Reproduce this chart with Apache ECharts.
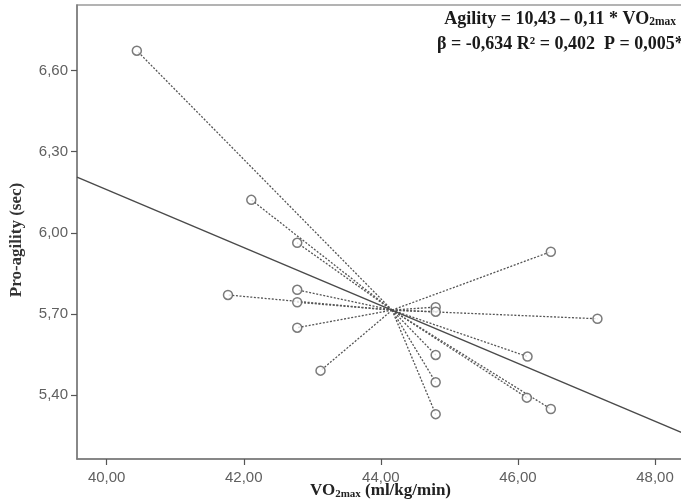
<!DOCTYPE html>
<html>
<head>
<meta charset="utf-8">
<style>
html,body{margin:0;padding:0;background:#fff;}
#chart{width:681px;height:503px;}
</style>
<script src="https://cdn.jsdelivr.net/npm/echarts@6/dist/echarts.min.js"></script>
</head>
<body>
<div id="chart"></div>
<script>
// Data
var vo2max = [40.44, 42.11, 42.78, 41.77, 42.78, 42.78, 42.78, 43.12, 44.80, 44.80, 44.80, 44.80, 44.80, 46.48, 47.16, 46.14, 46.13, 46.48];
var agility = [6.674, 6.122, 5.963, 5.770, 5.789, 5.743, 5.649, 5.490, 5.725, 5.708, 5.548, 5.447, 5.329, 5.930, 5.682, 5.542, 5.390, 5.348];
var xTicks = [40, 42, 44, 46, 48];
var yTicks = [5.4, 5.7, 6.0, 6.3, 6.6];
var xRange = [39.567, 48.423];
var yRange = [5.163, 6.843];
var eqLine1 = 'Agility = 10,43 \u2013 0,11 * VO';
var eqSub = '2max';
var eqLine2 = '\u03b2 = -0,634 R\u00b2 = 0,402  P = 0,005*';
var xName = 'VO';
var xNameSub = '2max';
var xNameRest = ' (ml/kg/min)';
var yName = 'Pro-agility (sec)';

// derived: centroid and least squares line
var n = vo2max.length;
var mx = 0, my = 0;
for (var i = 0; i < n; i++) { mx += vo2max[i]; my += agility[i]; }
mx /= n; my /= n;
var sxy = 0, sxx = 0;
for (var i = 0; i < n; i++) { sxy += (vo2max[i]-mx)*(agility[i]-my); sxx += (vo2max[i]-mx)*(vo2max[i]-mx); }
var slope = sxy / sxx;
var icpt = my - slope * mx;

var points = vo2max.map(function(v, i){ return [v, agility[i]]; });
var spokes = points.map(function(p){ return { coords: [[mx, my], p] }; });
var fitLine = [[xRange[0], icpt + slope*xRange[0]], [xRange[1], icpt + slope*xRange[1]]];

function fmt(v){ return v.toFixed(2).replace('.', ','); }

var chart = echarts.init(document.getElementById('chart'), null, {renderer: 'canvas'});
chart.setOption({
  animation: false,
  backgroundColor: '#ffffff',
  grid: {left: 77, right: -3, top: 5, bottom: 44, show: true, borderColor: '#9a9a9a', borderWidth: 1.5, containLabel: false, outerBoundsMode: 'none'},
  xAxis: {
    type: 'value', min: xRange[0], max: xRange[1],
    name: '{b|' + xName + '}{s|' + xNameSub + '}{b|' + xNameRest + '}',
    nameLocation: 'middle', nameGap: 31, nameMoveOverlap: false,
    nameTextStyle: {verticalAlign: 'middle', rich: {
      b: {fontFamily: 'Liberation Serif', fontWeight: 'bold', fontSize: 17, color: '#222', lineHeight: 19, verticalAlign: 'bottom'},
      s: {fontFamily: 'Liberation Serif', fontWeight: 'bold', fontSize: 11, color: '#222', lineHeight: 15, verticalAlign: 'bottom'}
    }},
    axisLine: {show: true, onZero: false, lineStyle: {color: '#7a7a7a', width: 1.5}},
    axisTick: {show: true, length: 6, customValues: xTicks, lineStyle: {color: '#555', width: 1.2}},
    axisLabel: {customValues: xTicks, formatter: fmt, margin: 11, fontFamily: 'Liberation Sans', fontSize: 15, color: '#606060'},
    splitLine: {show: false}
  },
  yAxis: {
    type: 'value', min: yRange[0], max: yRange[1],
    name: yName, nameLocation: 'middle', nameGap: 52, nameRotate: 90, nameMoveOverlap: false,
    nameTextStyle: {fontFamily: 'Liberation Serif', fontWeight: 'bold', fontSize: 17, color: '#333', padding: [0, 16, 0, 0]},
    axisLine: {show: true, onZero: false, lineStyle: {color: '#7a7a7a', width: 1.5}},
    axisTick: {show: true, length: 6, customValues: yTicks, lineStyle: {color: '#555', width: 1.2}},
    axisLabel: {customValues: yTicks, formatter: fmt, margin: 9, fontFamily: 'Liberation Sans', fontSize: 15, color: '#606060'},
    splitLine: {show: false}
  },
  graphic: [
    {type: 'text', right: 5, top: 10, z: 100, style: {
      text: '{b|' + eqLine1 + '}{s|' + eqSub + '}',
      rich: {
        b: {fontFamily: 'Liberation Serif', fontWeight: 'bold', fontSize: 18, fill: '#1a1a1a', lineHeight: 21, verticalAlign: 'bottom'},
        s: {fontFamily: 'Liberation Serif', fontWeight: 'bold', fontSize: 11.5, fill: '#1a1a1a', lineHeight: 17, verticalAlign: 'bottom'}
      }
    }},
    {type: 'text', left: 437, top: 35, z: 100, style: {
      text: eqLine2, fontFamily: 'Liberation Serif', fontWeight: 'bold', fontSize: 18, fill: '#1a1a1a'
    }}
  ],
  series: [
    {type: 'lines', coordinateSystem: 'cartesian2d', data: spokes, silent: true, z: 2,
      lineStyle: {color: '#555555', width: 1.3, type: [2, 1.6], opacity: 1}},
    {type: 'line', data: fitLine, showSymbol: false, silent: true, z: 3,
      lineStyle: {color: '#4a4a4a', width: 1.4}},
    {type: 'scatter', data: points, symbol: 'circle', symbolSize: 9, z: 5,
      itemStyle: {color: '#ffffff', borderColor: '#5a5a5a', borderWidth: 1.5}}
  ]
});
</script>
</body>
</html>
